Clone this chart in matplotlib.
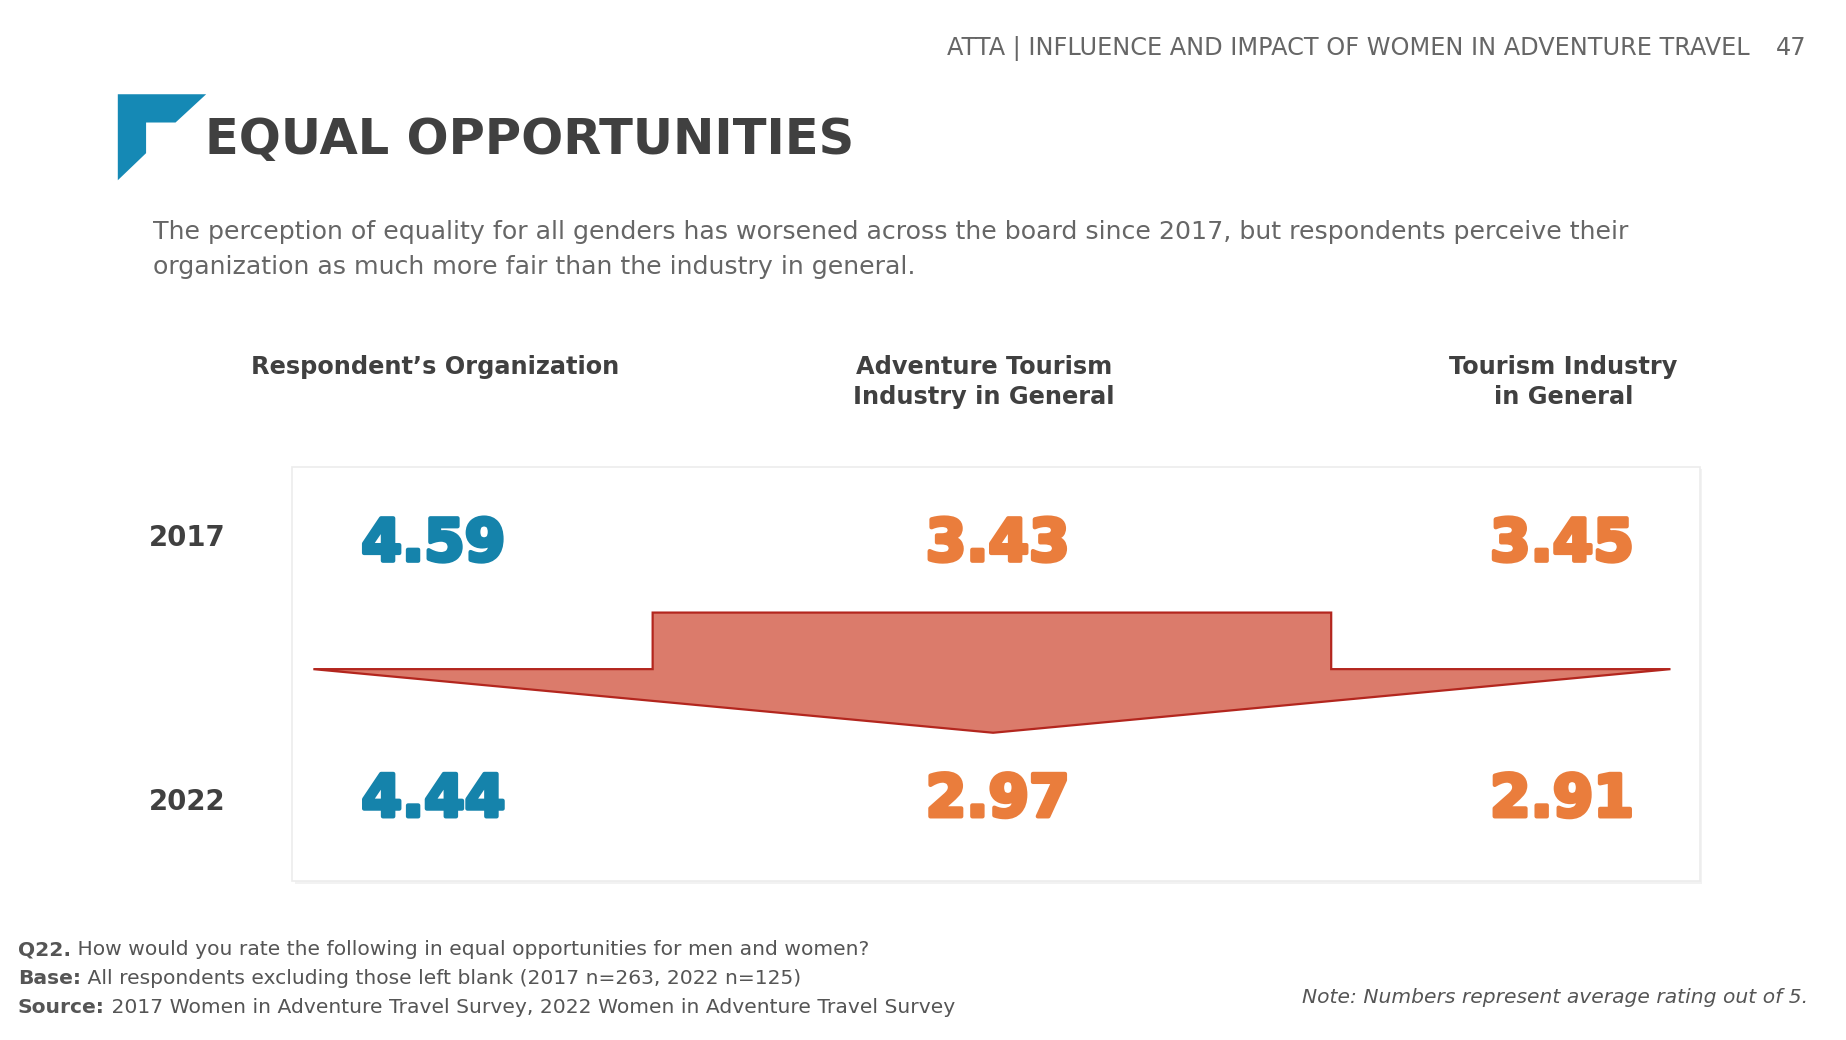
import numpy as np
import matplotlib.pyplot as plt
from matplotlib.patches import Polygon, Rectangle
import matplotlib.patheffects as pe

# data
years = ["2017", "2022"]
categories = ["Respondent\u2019s Organization", "Adventure Tourism\nIndustry in General", "Tourism Industry\nin General"]
vals_2017 = [4.59, 3.43, 3.45]
vals_2022 = [4.44, 2.97, 2.91]

BLUE = "#1583ab"
ORANGE = "#ea7d3c"
DARK = "#404040"
GRAY = "#666666"
val_colors = [BLUE, ORANGE, ORANGE]

W = 1567
H = W * 1040 / 1846
S = 1846 / W


def fs(px):
    # pixel em-size in the layout frame -> points
    return px * S * 0.72


plt.rcParams['font.family'] = ['DejaVu Sans']

fig = plt.figure(figsize=(18.46, 10.40), dpi=100)
ax = fig.add_axes([0, 0, 1, 1])
ax.set_xlim(0, W)
ax.set_ylim(H, 0)
ax.axis("off")

# header
ax.text(1485, 41, "ATTA | INFLUENCE AND IMPACT OF WOMEN IN ADVENTURE TRAVEL", ha="right", va="center",
        fontsize=fs(20.4), color=GRAY)
ax.text(1533, 41, "47", ha="right", va="center", fontsize=fs(20.4), color=GRAY)

# flag + title
flag = [(100, 80), (175, 80), (149, 104), (124, 104), (124, 130), (100, 153)]
ax.add_patch(Polygon(flag, closed=True, color="#1589b5", lw=0))
ax.text(174, 119, "EQUAL OPPORTUNITIES", ha="left", va="center", fontsize=fs(42), fontweight="bold", color=DARK)

ax.text(130, 197, "The perception of equality for all genders has worsened across the board since 2017, but respondents perceive their",
        ha="left", va="center", fontsize=fs(21.4), color=GRAY)
ax.text(130, 227, "organization as much more fair than the industry in general.",
        ha="left", va="center", fontsize=fs(21.4), color=GRAY)

# column headings
col_x = [369, 835, 1327]
for cx, cat in zip(col_x, categories):
    ax.text(cx, 301, cat, ha="center", va="top", fontsize=fs(20.4), fontweight="bold", color=DARK,
            linespacing=1.35)

# box
ax.add_patch(Rectangle((250, 398), 1195, 352, facecolor="#f2f2f2", edgecolor="none"))
ax.add_patch(Rectangle((248, 396), 1195, 352, facecolor="white", edgecolor="#ececec", lw=1.2))

# arrow
arrow = [(266, 568), (554, 568), (554, 520), (1130, 520), (1130, 568), (1418, 568), (843, 622)]
ax.add_patch(Polygon(arrow, closed=True, facecolor="#db7b6b", edgecolor="#b3261e", lw=1.6, joinstyle="miter"))

# values
row_y = [462, 679]
year_y = [457, 681]
val_x = [368, 847, 1326]
for ry, yy, yr, vals in zip(row_y, year_y, years, [vals_2017, vals_2022]):
    ax.text(159, yy, yr, ha="center", va="center", fontsize=fs(23.4), fontweight="bold", color=DARK)
    for vx, v, c in zip(val_x, vals, val_colors):
        ax.text(vx, ry, f"{v:.2f}", ha="center", va="center", fontsize=fs(49.5), fontweight="bold", color=c,
                path_effects=[pe.withStroke(linewidth=3, foreground=c)])

# footer
notes = [("Q22.", " How would you rate the following in equal opportunities for men and women?"),
         ("Base:", " All respondents excluding those left blank (2017 n=263, 2022 n=125)"),
         ("Source:", " 2017 Women in Adventure Travel Survey, 2022 Women in Adventure Travel Survey")]
for i, (b, rest) in enumerate(notes):
    t = ax.text(15, 811 + i * 24.5, b, ha="left", va="baseline", fontsize=fs(17.2), fontweight="bold", color="#555555")
    ax.annotate(rest, xy=(1, 0), xycoords=t, ha="left", va="bottom", fontsize=fs(17.2), color="#555555")

ax.text(1535, 847, "Note: Numbers represent average rating out of 5.", ha="right", va="center",
        fontsize=fs(17.2), style="italic", color="#555555")

fig.savefig("out.png", dpi=100)
